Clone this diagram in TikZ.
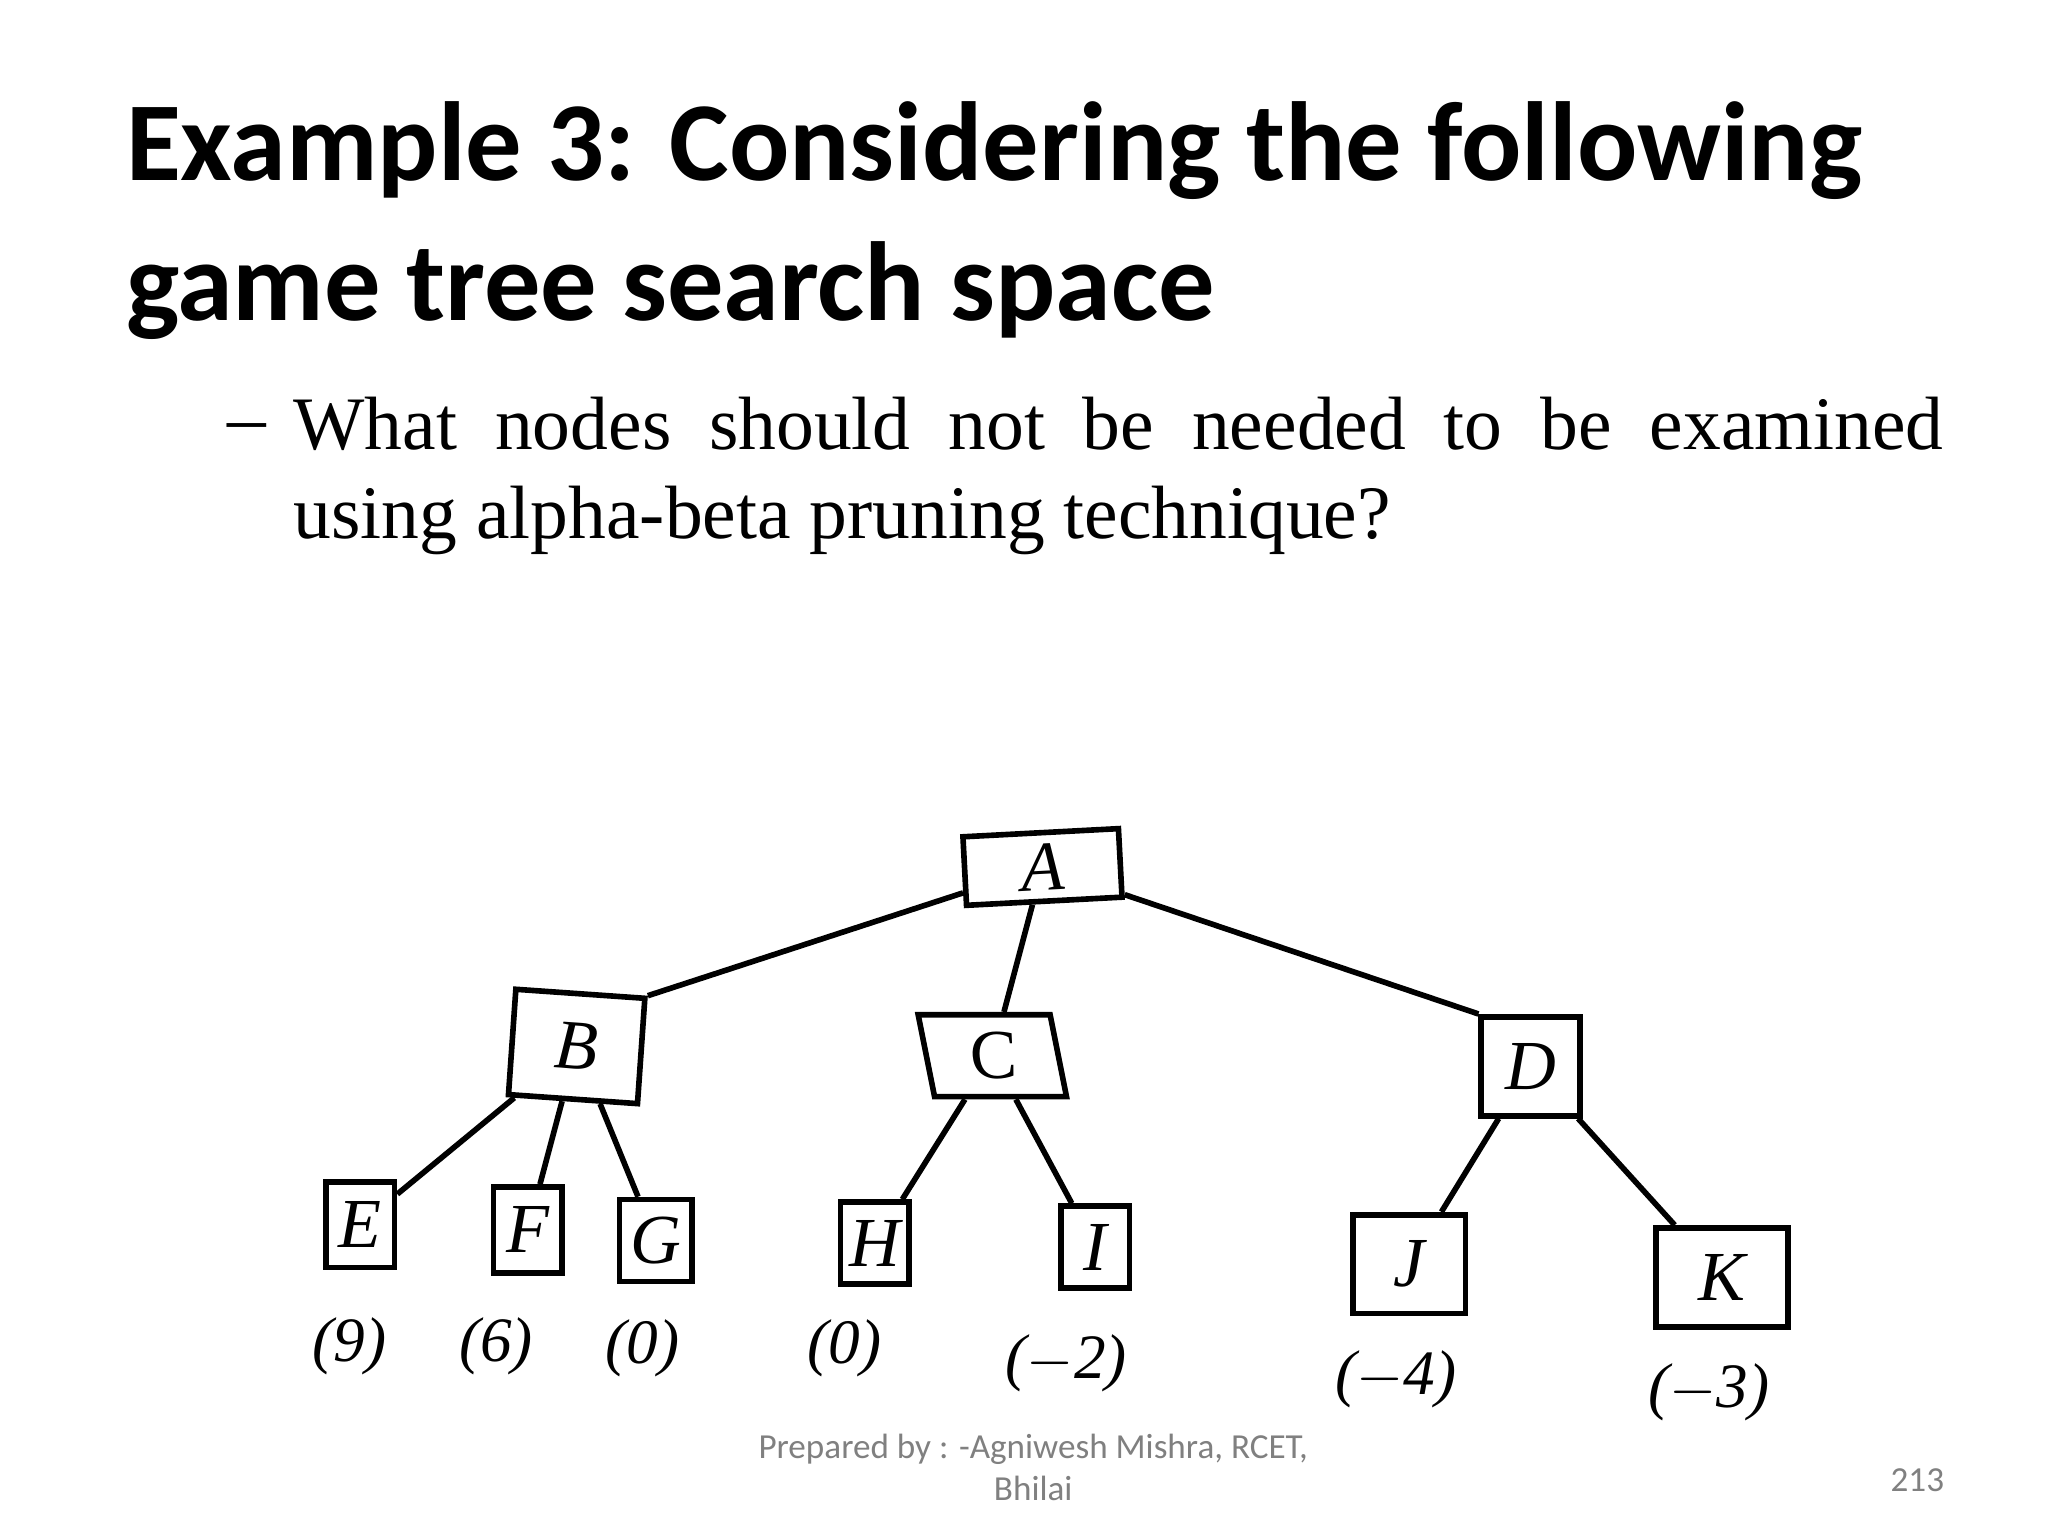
\documentclass[tikz,border=0pt]{standalone}
\usepackage{fontspec}
\setmainfont{Liberation Serif}
\newfontfamily\carlitofont{Carlito}
\begin{document}
\begin{tikzpicture}[x=0.013196cm,y=-0.013196cm,
 tn/.style={draw,line width=1.6pt,font=\fontsize{20}{20}\selectfont\itshape,inner sep=0pt},
 lf/.style={font=\fontsize{18}{18}\selectfont\itshape},
 ed/.style={line width=1.6pt}]
\def\u{0.3755pt}
\useasboundingbox (0,0) rectangle (1552,1164);
\node[anchor=base west,inner sep=0pt,font=\carlitofont\bfseries\fontsize{32}{40}\selectfont] (t1) at (95,137) {Example 3: Considering the following};
\node[anchor=base west,inner sep=0pt,font=\carlitofont\bfseries\fontsize{32}{40}\selectfont] (t2) at (95,243) {game tree search space};
\node[anchor=base west,inner sep=0pt,font=\fontsize{22}{22}\selectfont] (dash) at (172,336) {--};
\node[anchor=north west,inner sep=0pt,text width=16.5cm,align=justify,font=\fontsize{21.5}{25.5}\selectfont] (q) at (222,300) {\hyphenpenalty=10000 What nodes should not be needed to be examined\linebreak using alpha-beta pruning technique?};
\node[font=\carlitofont\fontsize{10}{12}\selectfont,text=gray,align=center] (ft) at (783,1112) {Prepared by : -Agniwesh Mishra, RCET,\\Bhilai};
\node[font=\carlitofont\fontsize{10}{12}\selectfont,text=gray] (pg) at (1453,1122) {213};
\node[tn,minimum width=118*\u,minimum height=52*\u,rotate=3] (A) at (790,657) {A};
\node[tn,minimum width=98*\u,minimum height=80*\u,rotate=-4] (B) at (437,793) {B};
\node[tn,minimum width=100*\u,minimum height=62*\u,xslant=-0.2] (C) at (752,800) {C};
\node[tn,minimum width=75*\u,minimum height=75*\u] (D) at (1160,808) {D};
\node[tn,minimum width=52*\u,minimum height=65*\u] (E) at (273,928) {E};
\node[tn,minimum width=52*\u,minimum height=65*\u] (F) at (400,932) {F};
\node[tn,minimum width=55*\u,minimum height=62*\u] (G) at (497,940) {G};
\node[tn,minimum width=52*\u,minimum height=62*\u] (H) at (663,942) {H};
\node[tn,minimum width=52*\u,minimum height=62*\u] (I) at (830,945) {I};
\node[tn,minimum width=85*\u,minimum height=75*\u] (J) at (1068,958) {J};
\node[tn,minimum width=100*\u,minimum height=75*\u] (K) at (1305,968) {K};
\node[lf] (e) at (265,1020) {(9)};
\node[lf] (f) at (376,1020) {(6)};
\node[lf] (g) at (487,1022) {(0)};
\node[lf] (h) at (640,1022) {(0)};
\node[lf] (i) at (808,1033) {($-$2)};
\node[lf] (j) at (1058,1045) {($-$4)};
\node[lf] (k) at (1295,1055) {($-$3)};
\draw[ed] (A) -- (B.north east);
\draw[ed] (A) -- (C);
\draw[ed] (A) -- (D.north west);
\draw[ed] (B) -- (E);
\draw[ed] (B) -- (F);
\draw[ed] (B) -- (G);
\draw[ed] (C) -- (H);
\draw[ed] (C) -- (I);
\draw[ed] (D) -- (J);
\draw[ed] (D) -- (K);
\end{tikzpicture}
\end{document}
